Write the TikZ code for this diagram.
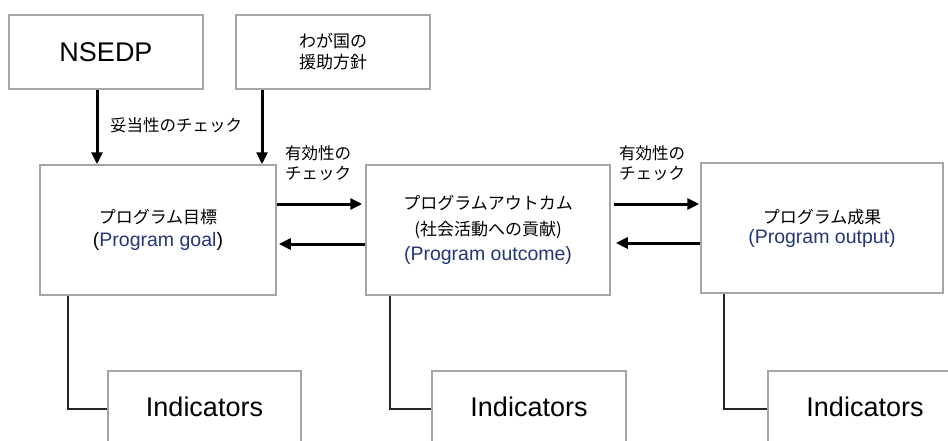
\documentclass[tikz,border=0pt]{standalone}
\usepackage{fontspec}
\setmainfont{Liberation Sans}
\newfontfamily\jp{Noto Sans CJK JP}
\usetikzlibrary{arrows.meta}
\definecolor{boxgray}{RGB}{165,165,165}
\definecolor{engblue}{RGB}{35,55,120}
\tikzset{
  box/.style={draw=boxgray, line width=1.5pt, fill=white, inner sep=0pt, align=center},
  bigtxt/.style={font=\fontsize{27}{30}\selectfont},
  jptxt/.style={font=\jp\fontsize{17}{21}\selectfont},
  arr/.style={line width=3pt, -{Triangle[length=12pt,width=11pt]}},
  link/.style={line width=1.5pt, draw=black!85},
  lbl/.style={font=\jp\fontsize{16.5}{20}\selectfont, align=left, inner sep=0pt},
}
\newcommand{\eng}[1]{{\fontsize{19.5}{22}\selectfont\color{engblue}#1}}
\newcommand{\jpl}[1]{{\jp\fontsize{17}{22}\selectfont #1}}
\begin{document}
\begin{tikzpicture}[x=1pt, y=-1pt]
\useasboundingbox (0,0) rectangle (948,440);
\clip (0,0) rectangle (948,440);
\fill[white] (0,0) rectangle (948,440);

% source boxes
\node[box, bigtxt, minimum width=194pt, minimum height=74pt] (nsedp) at (106,52) {NSEDP};
\node[box, jptxt, minimum width=194pt, minimum height=74pt] (policy) at (333,52) {わが国の\\援助方針};

% main chain
\node[box, font=\fontsize{19.5}{23}\selectfont, minimum width=236pt, minimum height=130pt] (goal) at (158,230)
  {\jpl{プログラム目標}\\(\eng{Program goal})};
\node[box, font=\fontsize{19.5}{25.5}\selectfont, minimum width=244pt, minimum height=130pt] (outcome) at (488,230)
  {\jpl{プログラムアウトカム}\\\jpl{(社会活動への貢献)}\\\eng{(Program outcome)}};
\node[box, font=\fontsize{19.5}{20}\selectfont, minimum width=242pt, minimum height=130pt] (output) at (822,228)
  {\jpl{プログラム成果}\\\eng{(Program output)}};

% indicator boxes
\node[box, bigtxt, minimum width=193pt, minimum height=72pt] (ind1) at (204.5,407) {Indicators};
\node[box, bigtxt, minimum width=194pt, minimum height=72pt] (ind2) at (529,407) {Indicators};
\node[box, bigtxt, minimum width=194pt, minimum height=72pt] (ind3) at (865,407) {Indicators};

% relevance checks
\draw[arr] (nsedp.south -| 97,0) -- (goal.north -| 97,0);
\draw[arr] (policy.south -| 262,0) -- (goal.north -| 262,0);
\node[lbl, anchor=west] (rel) at (110,125) {妥当性のチェック};

% effectiveness checks
\draw[arr, shorten >=3pt] (goal.east |- 0,204) -- (outcome.west |- 0,204);
\draw[arr, shorten >=2pt] (outcome.west |- 0,244) -- (goal.east |- 0,244);
\node[lbl, anchor=west] (eff1) at (285,163) {有効性の\\チェック};

\draw[arr, shorten <=3pt, shorten >=1pt] (outcome.east |- 0,204) -- (output.west |- 0,204);
\draw[arr, shorten >=5pt] (output.west |- 0,243) -- (outcome.east |- 0,243);
\node[lbl, anchor=west] (eff2) at (619,163) {有効性の\\チェック};

% indicator links
\draw[link] (goal.south -| 68,0) |- (ind1.west |- 0,409);
\draw[link] (outcome.south -| 390,0) |- (ind2.west |- 0,409);
\draw[link] (output.south -| 724,0) |- (ind3.west |- 0,409);
\end{tikzpicture}
\end{document}
